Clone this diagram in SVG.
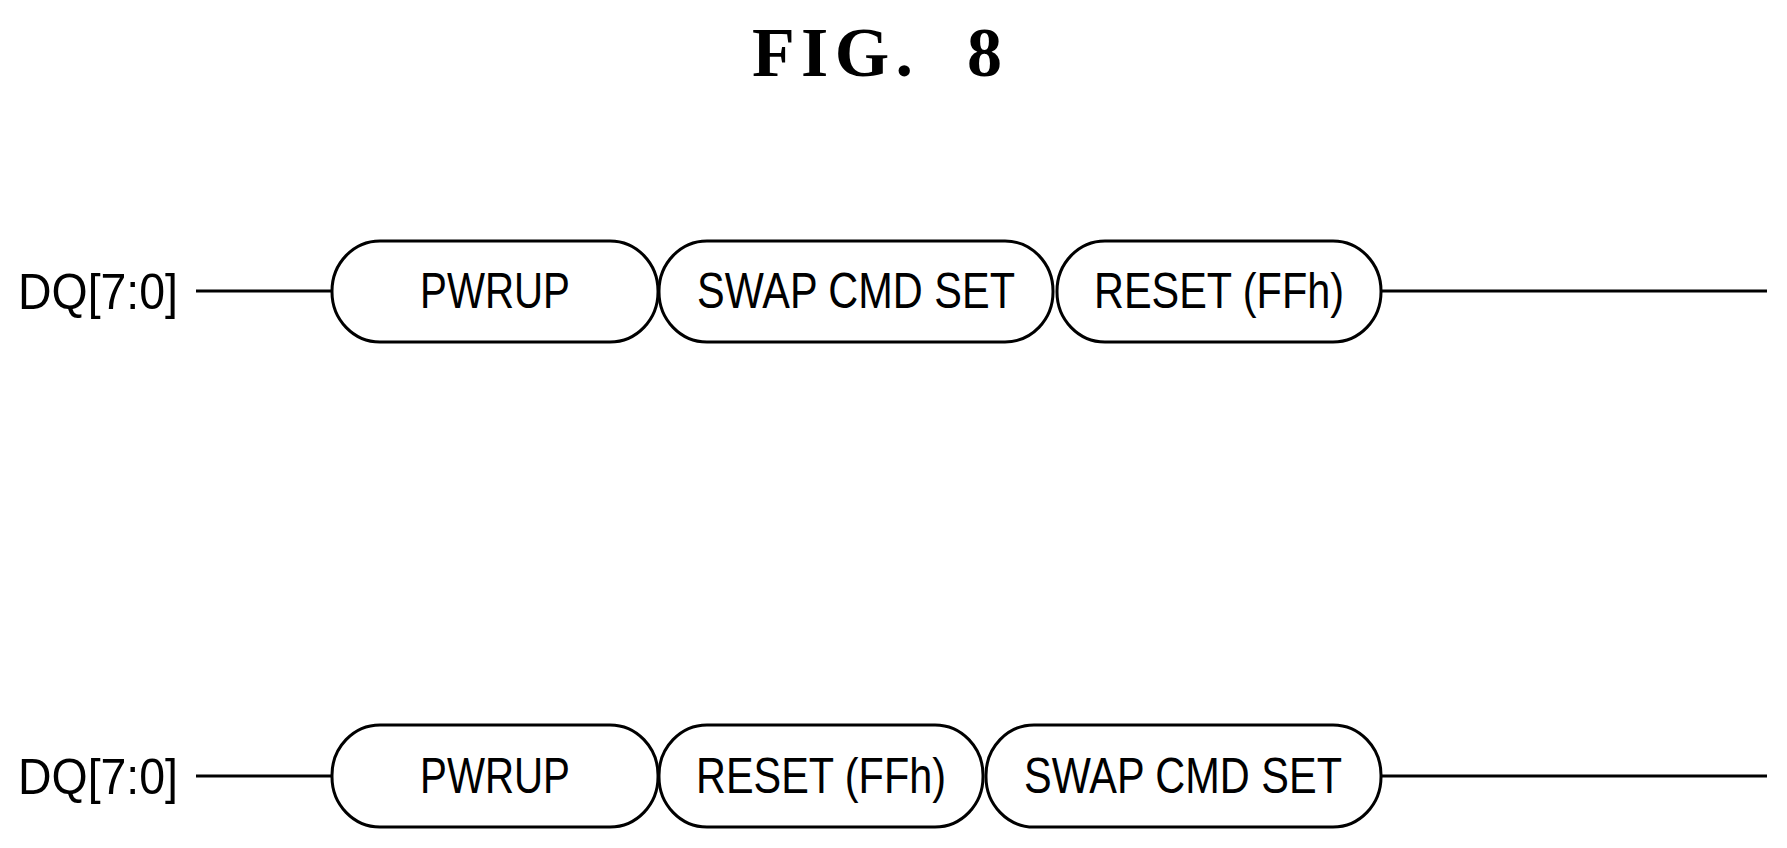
<svg xmlns="http://www.w3.org/2000/svg" width="1787" height="848" viewBox="0 0 1787 848">
<style>
.b{fill:#fff;stroke:#000;stroke-width:3}
.l{stroke:#000;stroke-width:3}
.t{font-family:"Liberation Sans",Arial,sans-serif;font-size:50px;text-anchor:middle}
.s{font-family:"Liberation Sans",Arial,sans-serif;font-size:50px}
</style>
<rect width="1787" height="848" fill="#fff"/>
<text x="752" y="76" font-family="Liberation Serif,serif" font-weight="bold" font-size="70" textLength="250" lengthAdjust="spacing" style="white-space:pre">FIG.  8</text>
<g id="connectors">
<line class="l" x1="196" y1="291" x2="332" y2="291"/>
<line class="l" x1="1381" y1="291" x2="1767" y2="291"/>
<line class="l" x1="196" y1="776" x2="332" y2="776"/>
<line class="l" x1="1381" y1="776" x2="1767" y2="776"/>
</g>
<g id="label1"><text class="s" x="18" y="309" textLength="160" lengthAdjust="spacingAndGlyphs">DQ[7:0]</text></g>
<g id="label2"><text class="s" x="18" y="794" textLength="160" lengthAdjust="spacingAndGlyphs">DQ[7:0]</text></g>
<g id="r1a"><rect class="b" x="332" y="241" width="326" height="101" rx="48" ry="50"/><text class="t" x="495" y="308" textLength="150" lengthAdjust="spacingAndGlyphs">PWRUP</text></g>
<g id="r1b"><rect class="b" x="659" y="241" width="394" height="101" rx="48" ry="50"/><text class="t" x="856" y="308" textLength="318" lengthAdjust="spacingAndGlyphs">SWAP CMD SET</text></g>
<g id="r1c"><rect class="b" x="1057" y="241" width="324" height="101" rx="48" ry="50"/><text class="t" x="1219" y="308" textLength="250" lengthAdjust="spacingAndGlyphs">RESET (FFh)</text></g>
<g id="r2a"><rect class="b" x="332" y="725" width="326" height="102" rx="48" ry="50"/><text class="t" x="495" y="793" textLength="150" lengthAdjust="spacingAndGlyphs">PWRUP</text></g>
<g id="r2b"><rect class="b" x="659" y="725" width="324" height="102" rx="48" ry="50"/><text class="t" x="821" y="793" textLength="250" lengthAdjust="spacingAndGlyphs">RESET (FFh)</text></g>
<g id="r2c"><rect class="b" x="986" y="725" width="395" height="102" rx="48" ry="50"/><text class="t" x="1183" y="793" textLength="318" lengthAdjust="spacingAndGlyphs">SWAP CMD SET</text></g>
</svg>
